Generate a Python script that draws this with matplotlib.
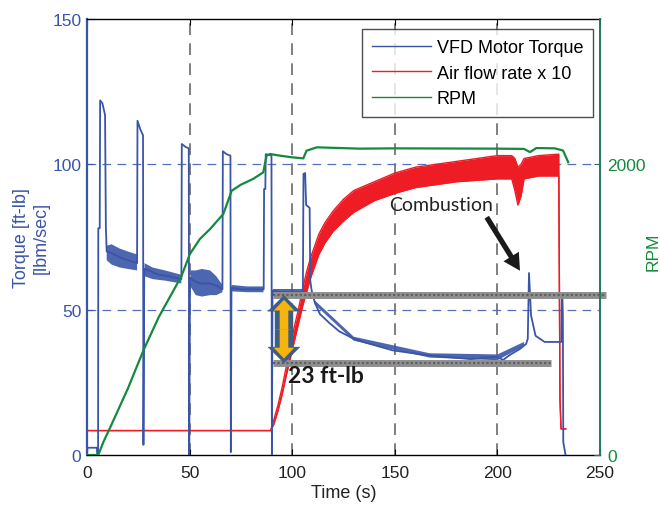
import matplotlib
matplotlib.use('Agg')
import matplotlib.pyplot as plt
import numpy as np
from matplotlib.patches import FancyArrow
from matplotlib.lines import Line2D

plt.rcParams['font.family'] = ['Liberation Sans', 'DejaVu Sans']

# ---------------- data ----------------
# VFD motor torque [ft-lb] (main trace)
torque_t = [0, 0.2, 4.8, 5.0, 5.4, 5.5, 6.2, 6.4, 7.5, 8.8, 9.2, 9.6, 12, 16, 20, 24.4,
            24.6, 26, 27.3, 27.5, 27.9, 28.5, 35, 40, 46.0, 46.2, 48, 49.6, 49.8, 50.2,
            52, 55, 60, 64, 66.0, 66.2, 68, 69.9, 70.1, 70.4, 75, 80, 86.1, 86.3, 86.9,
            87.1, 89.9, 90.1, 90.4, 95, 100, 105.2, 105.5, 106.3, 106.8, 108.5, 108.8,
            109.5, 111, 113.5, 118, 123, 130, 135, 149, 167, 187, 199.6, 202.8, 206, 211,
            214, 214.8, 215.4, 216.4, 218.6, 223, 228.9, 231.2, 231.4, 231.7, 231.9,
            232.1, 233.2]
torque_v = [0, 2.5, 2.5, 0, 0, 78, 78, 122, 121, 117, 78, 70, 69.5, 68, 67, 66,
            115, 112, 110, 3.5, 64, 64, 62, 61.5, 60.5, 107, 106, 105.5, 0, 61,
            60, 59, 59, 58, 57, 104.5, 103.5, 103, 1, 57.5, 57, 57, 57, 91.5, 91.5,
            103.5, 103, 0, 56.5, 56, 56, 56, 96.7, 97, 86, 85, 60,
            56.5, 52.5, 48.5, 45.5, 42.5, 40, 38.8, 36, 34.2, 33, 33.8, 32.7, 34.4, 36.5,
            38.2, 40, 62.6, 48, 41, 38.9, 38.9, 38.9, 54.8, 54, 48,
            4.5, 0]

# noisy portions of the torque trace (envelopes), NaN separates segments
torque_band_t = [9.6, 12, 16, 20, 24.4, np.nan,
                 28, 32, 38, 46, np.nan,
                 50.4, 53, 56, 60, 63, 66, np.nan,
                 70.4, 78, 86, np.nan,
                 90.4, 98, 105, np.nan,
                 111, 130, 167, 200, 213]
torque_band_lo = [67, 65.5, 64.5, 64, 63.5, np.nan,
                  61.5, 60.5, 60, 59, np.nan,
                  58, 55, 54.5, 55, 55, 56, np.nan,
                  56.3, 56, 56, np.nan,
                  55.4, 55.4, 55.4, np.nan,
                  51.8, 39.3, 33.5, 32.6, 37.5]
torque_band_hi = [72, 72.5, 71, 70, 69, np.nan,
                  66, 64.5, 63.5, 62, np.nan,
                  63.5, 63.5, 64, 63.5, 61.5, 58.5, np.nan,
                  58.5, 58, 58, np.nan,
                  57.2, 57.2, 57.2, np.nan,
                  53.2, 40.7, 35, 34.6, 38.9]

# Air flow rate x 10 [lbm/sec] (lower / upper envelope of the noisy trace)
airflow_t = [0, 89.5, 91, 93, 95, 97, 99, 101, 103, 105, 107, 109, 111, 113, 116, 120,
             125, 130, 135, 140, 150, 160, 170, 180, 190, 200, 207, 208.5, 210, 211.5,
             213, 220, 229.9, 230.5, 231.0, 233.3]
airflow_lo = [8.4, 8.4, 10.5, 15, 20.5, 27, 33, 39, 45, 51, 56, 61, 65, 69, 73, 77,
              80.5, 83.5, 85.5, 87.5, 90, 92, 93, 94, 94.5, 95, 95, 91, 86, 89,
              95, 96, 96, 19.3, 9, 9]
airflow_hi = [8.4, 8.4, 12, 17, 23, 30, 37, 44, 50, 57, 63, 68, 72, 76, 80, 84,
              88, 91, 92.5, 94, 97, 99, 100, 101, 102, 103, 103, 102, 99, 100,
              102, 103, 103.5, 19.3, 9, 9]

# RPM (right axis)
rpm_t = [0, 5.5, 8, 11, 20, 27.5, 35, 46, 49, 50, 55, 60, 66.4, 67.5, 70.5, 75, 81,
         85.9, 87.5, 89.2, 93, 98.9, 105.4, 107, 112, 133, 150, 200, 213, 215.9, 219,
         228, 232, 234.5]
rpm_v = [0, 0, 90, 180, 460, 720, 950, 1230, 1340, 1380, 1486, 1555, 1658, 1700, 1818,
         1860, 1900, 1945, 2060, 2071, 2062, 2050, 2041, 2094, 2117, 2108, 2110, 2108,
         2106, 2084, 2112, 2110, 2095, 2015]

# reference levels of the annotation
torque_levels = [55.0, 31.6]          # upper / lower torque level [ft-lb]
level_t_start = [90.7, 90.7]
level_t_end = [253.0, 226.0]
delta_label = '23 ft-lb'

x_ticks = [0, 50, 100, 150, 200, 250]
y_ticks = [0, 50, 100, 150]
rpm_ticks = [0, 2000]

legend_labels = ['VFD Motor Torque', 'Air flow rate x 10', 'RPM']

# ---------------- styling ----------------
BLUE = '#3a55a8'
RED = '#ee1c25'
GREEN = '#15893c'
TEAL = '#1f7a5c'
GRIDBLUE = '#5570b8'

fig = plt.figure(figsize=(6.6, 5.06), dpi=100)
ax = fig.add_axes([87/660, 50/506, 513/660, 436/506])
ax2 = ax.twinx()

ax.set_xlim(0, 250)
ax.set_ylim(0, 150)
ax2.set_ylim(0, 3000)

# grid
for xv in x_ticks[1:-1]:
    ax.axvline(xv, color='#6a6a6a', lw=1.2, ls=(0, (7, 5)), zorder=0.5)
for yv in y_ticks[1:-1]:
    ax.axhline(yv, color=GRIDBLUE, lw=0.9, ls=(0, (7, 5)), zorder=0.5)

# air flow (red)
ax.fill_between(airflow_t, airflow_lo, airflow_hi, color=RED, lw=0, zorder=2)
ax.plot(airflow_t, airflow_lo, color=RED, lw=1.0, zorder=2)
ax.plot(airflow_t, airflow_hi, color=RED, lw=1.0, zorder=2)

# torque (blue)
ax.fill_between(torque_band_t, torque_band_lo, torque_band_hi, color=BLUE,
                alpha=0.9, lw=0, zorder=3)
ax.plot(torque_t, torque_v, color=BLUE, lw=1.3, zorder=3)

# RPM (green)
ax2.plot(rpm_t, rpm_v, color=GREEN, lw=1.6, zorder=3)

# horizontal reference bars
for lvl, t0, t1 in zip(torque_levels, level_t_start, level_t_end):
    ax.plot([t0, t1], [lvl, lvl], color='#8f8f8f', lw=5, solid_capstyle='butt',
            zorder=4, clip_on=False)
    ax.plot([t0, t1], [lvl, lvl], color='#606060', lw=1.6, ls=(0, (1, 1)),
            zorder=4.1, clip_on=False)

# double arrow between the two levels
x_arrow = 96.0
top, bot = torque_levels
mid = (top + bot) / 2
for sign in (1, -1):
    tip = top if sign > 0 else bot
    ax.add_patch(FancyArrow(x_arrow, mid, 0, tip - mid, width=9.0, head_width=16.0,
                            head_length=5.6, length_includes_head=True,
                            color='#3e5f82', lw=0, zorder=6))
for sign in (1, -1):
    tip = (top - 1.6) if sign > 0 else (bot + 1.6)
    ax.add_patch(FancyArrow(x_arrow, mid, 0, tip - mid, width=4.2, head_width=10.0,
                            head_length=3.7, length_includes_head=True,
                            color='#f6b40c', lw=0, zorder=7))

ax.text(98.1, 27.3, delta_label, fontfamily=['Lato', 'DejaVu Sans'], fontweight='bold',
        fontsize=16.5, va='center', ha='left', color='#1a1a1a', zorder=8)

# combustion annotation
ax.text(147.3, 86.3, 'Combustion', fontfamily=['Lato', 'DejaVu Sans'], fontsize=14,
        va='center', ha='left', color='#222222', zorder=8)
ax.annotate('', xy=(211, 63.4), xytext=(194.8, 81.8),
            arrowprops=dict(facecolor='#1a1a1a', edgecolor='none', width=3.8,
                            headwidth=13, headlength=12, shrink=0), zorder=8)

# axes styling
ax.set_xticks(x_ticks)
ax.set_yticks(y_ticks)
ax2.set_yticks(rpm_ticks)
ax.tick_params(axis='both', direction='in', length=4, labelsize=12.5, top=True)
ax.tick_params(axis='x', pad=7, colors='black', labelcolor='#222222')
ax.tick_params(axis='y', pad=4, colors=BLUE, labelcolor=BLUE)
ax2.tick_params(axis='y', direction='in', length=4, labelsize=12.5, pad=5,
                colors=TEAL, labelcolor=GREEN)

for s in ['top', 'bottom']:
    ax.spines[s].set_color('black')
    ax.spines[s].set_linewidth(1.0)
ax.spines['left'].set_color(BLUE)
ax.spines['left'].set_linewidth(1.6)
ax.spines['right'].set_visible(False)
for s in ['top', 'bottom', 'left']:
    ax2.spines[s].set_visible(False)
ax2.spines['right'].set_color(TEAL)
ax2.spines['right'].set_linewidth(1.4)

ax.set_xlabel('Time (s)', fontsize=13, color='#222222', labelpad=3)
ax.set_ylabel('Torque [ft-lb]\n[lbm/sec]', fontsize=13, color=BLUE, labelpad=2)
ax2.set_ylabel('RPM', fontsize=12.5, color=GREEN)
ax2.yaxis.set_label_coords(1.089, 0.468)

leg_handles = [Line2D([], [], color=BLUE, lw=1.0),
               Line2D([], [], color=RED, lw=1.0),
               Line2D([], [], color=GREEN, lw=1.0)]
leg = ax2.legend(leg_handles, legend_labels, loc='upper right',
                 bbox_to_anchor=(0.987, 0.977), borderaxespad=0, fontsize=13,
                 frameon=True, fancybox=False, edgecolor='#222222',
                 handlelength=3.3, handletextpad=0.3, labelspacing=0.48,
                 borderpad=0.55)
leg.get_frame().set_linewidth(1.0)
leg.set_zorder(10)

fig.savefig('out.png', dpi=100)
